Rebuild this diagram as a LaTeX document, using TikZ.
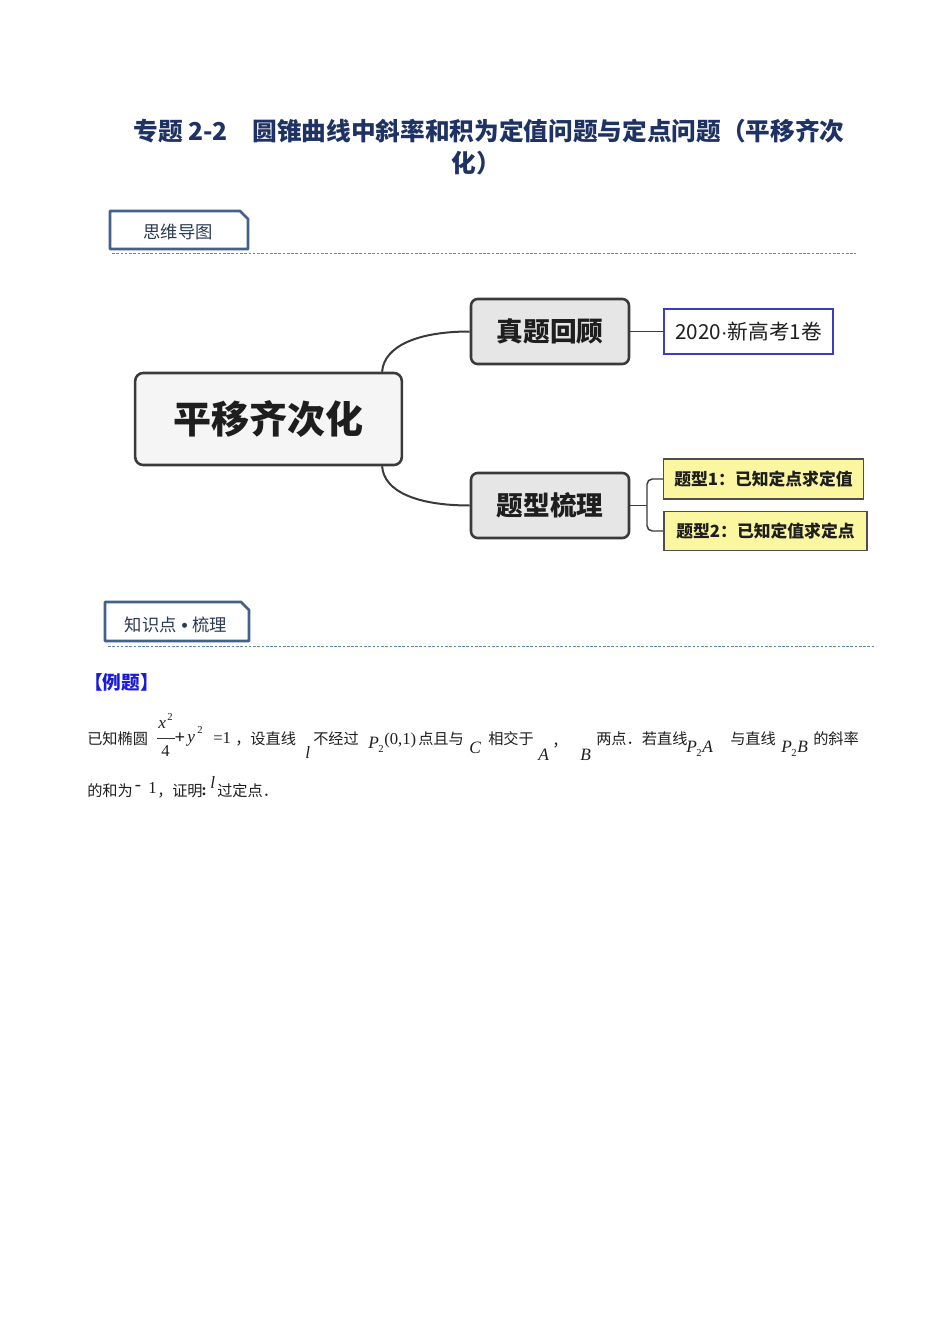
\documentclass[tikz,border=0pt]{standalone}
\usepackage{fontspec}
\setmainfont{Liberation Serif}
\newfontfamily\cjk{Noto Sans CJK SC}
\newfontfamily\lsans{Liberation Sans}
\usetikzlibrary{calc}
\definecolor{navy}{HTML}{1E3263}
\definecolor{tabblue}{HTML}{42618C}
\definecolor{tabtext}{HTML}{2B3A55}
\definecolor{dashblue}{HTML}{5E86B8}
\definecolor{boxgray}{HTML}{3A3A3A}
\definecolor{rootfill}{HTML}{F5F5F5}
\definecolor{subfill}{HTML}{E6E6E6}
\definecolor{srcblue}{HTML}{3B3BC4}
\definecolor{yel}{HTML}{FAF7A0}
\definecolor{exblue}{HTML}{1A1ADC}
\definecolor{ink}{HTML}{1E1E1E}
\tikzset{
  titletext/.style={font=\cjk\bfseries\fontsize{18.5}{22}\selectfont, text=navy, inner sep=0},
  tabframe/.style={draw=tabblue, line width=2.1pt, line join=round},
  tabtxt/.style={font=\cjk\fontsize{13}{15}\selectfont, text=tabtext, inner sep=0},
  dline/.style={draw=dashblue, line width=0.7pt, dash pattern=on 2pt off 1.2pt},
  rootbox/.style={draw=boxgray, line width=1.9pt, rounded corners=6pt, fill=rootfill, text=ink,
    font=\cjk\bfseries\fontsize{28.5}{32}\selectfont, minimum width=200pt, minimum height=69pt, inner sep=0},
  subbox/.style={draw=boxgray, line width=1.9pt, rounded corners=5pt, fill=subfill, text=ink,
    font=\cjk\bfseries\fontsize{20}{22}\selectfont, minimum width=118.5pt, minimum height=48.75pt, inner sep=0},
  srcbox/.style={draw=srcblue, line width=1.1pt, fill=white, text=ink,
    font=\cjk\fontsize{15.5}{18}\selectfont, minimum width=126.75pt, minimum height=33.75pt, inner sep=0},
  leafbox/.style={draw=boxgray!90, line width=1.1pt, fill=yel, text=ink,
    font=\cjk\bfseries\fontsize{12.6}{15}\selectfont, minimum height=30pt, inner sep=0},
  conn/.style={draw=boxgray, line width=1.5pt},
  thinconn/.style={draw=boxgray, line width=1.1pt, rounded corners=4pt},
  bt/.style={font=\cjk\fontsize{11.4}{14}\selectfont, anchor=base west, inner sep=0, text=black!88},
  mi/.style={font=\fontsize{13}{15}\selectfont\itshape, anchor=base west, inner sep=0, text=black!88},
  mr/.style={font=\fontsize{12.5}{15}\selectfont, anchor=base west, inner sep=0, text=black!88},
  ms/.style={font=\fontsize{8}{9}\selectfont, anchor=base west, inner sep=0, text=black!88},
  exlabel/.style={font=\cjk\bfseries\fontsize{14}{16}\selectfont, text=exblue, anchor=west, inner sep=0},
}
\begin{document}
\begin{tikzpicture}[x=0.75pt,y=-0.75pt]
\useasboundingbox (0,0) rectangle (950,1344);
\fill[white] (0,0) rectangle (950,1344);

% title
\node[titletext] (t1) at (489,131) {专题 2-2\quad 圆锥曲线中斜率和积为定值问题与定点问题（平移齐次};
\node[titletext] (t2) at (476,163) {化）};

% tab 1
\draw[tabframe] (110,211) -- (240,211) -- (248,219) -- (248,249) -- (110,249) -- cycle;
\node[tabtxt] (tab1) at (178,232) {思维导图};
\draw[dline] (112,253) -- (856,253);

% mind map
\node[rootbox] (root) at (268.5,419) {平移齐次化};
\node[subbox] (zt) at (550,331.5) {真题回顾};
\node[subbox] (tx) at (550,505.5) {题型梳理};
\node[srcbox] (src) at (748.5,331.5) {2020{\lsans·}新高考1卷};
\node[leafbox, minimum width=150pt] (y1) at (763.5,479) {题型1：已知定点求定值};
\node[leafbox, minimum width=152pt, minimum height=29.5pt] (y2) at (765.5,531) {题型2：已知定值求定点};

\draw[conn] ($(root.north east)+(-21,0)$) .. controls (384,346) and (418,331.5) .. (zt.west);
\draw[conn] ($(root.south east)+(-21,0)$) .. controls (384,492) and (418,505.5) .. (tx.west);
\draw[thinconn] (zt.east) -- (src.west);
\coordinate (br) at (647,505.5);
\draw[thinconn] (tx.east) -- (br);
\draw[thinconn] (y1.west) -- (647,479) -- (647,531) -- (y2.west);

% tab 2
\draw[tabframe] (105,602) -- (241,602) -- (249,610) -- (249,641) -- (105,641) -- cycle;
\node[tabtxt] (tab2) at (176,625) {知识点{\lsans\bfseries\ •\ }梳理};
\draw[dline] (108,646) -- (876,646);

% example
\node[exlabel] (ex) at (84,682) {【例题】};

% line 1
\node[bt] (a1) at (87,744) {已知椭圆};
\node[mi] (fx) at (158,728) {x};
\node[ms] (fx2) at (167,720) {2};
\draw[line width=0.5pt, black!80] (157,738) -- (175,738);
\node[mr] (f4) at (161,756) {4};
\node[mr, anchor=center, font=\fontsize{14}{15}\selectfont\bfseries] (plus) at (180,738.5) {+};
\node[mi] (yy) at (187,742) {y};
\node[ms] (yy2) at (197,733) {2};
\node[mr] (eq) at (213,743) {=1};
\node[bt] (a2) at (235,744) {，设直线};
\node[mi] (l1) at (305,758) {l};
\node[bt] (a3) at (313,744) {不经过};
\node[mi] (p1) at (368,748) {P};
\node[ms] (p1s) at (378,752) {2};
\node[mr] (pc) at (384,744) {(0,1)};
\node[bt] (a4) at (418,744) {点且与};
\node[mi] (cc) at (469,753) {C};
\node[bt] (a5) at (488,744) {相交于};
\node[mi] (aa) at (538,760) {A};
\node[bt] (cm) at (552,746) {，};
\node[mi] (bb) at (580,760) {B};
\node[bt] (a6) at (596,744) {两点．若直线};
\node[mi] (p2) at (686,752) {P};
\node[ms] (p2s) at (696,756) {2};
\node[mi] (p2a) at (702,752) {A};
\node[bt] (a7) at (730,744) {与直线};
\node[mi] (p3) at (781,752) {P};
\node[ms] (p3s) at (791,756) {2};
\node[mi] (p3b) at (797,752) {B};
\node[bt] (a8) at (813,744) {的斜率};

% line 2
\node[bt] (b1) at (87,796) {的和为};
\node[mr, anchor=center, font=\fontsize{14}{15}\selectfont] (neg) at (138,788) {-};
\node[mr] (one) at (148,793) {1};
\node[bt] (b2) at (157,796) {，};
\node[bt] (b3) at (172,796) {证明};
\node[mr] (b3c) at (201,795) {\bfseries :};
\node[mi] (l2) at (210,788) {l};
\node[bt] (b4) at (217,796) {过定点．};
\end{tikzpicture}
\end{document}
